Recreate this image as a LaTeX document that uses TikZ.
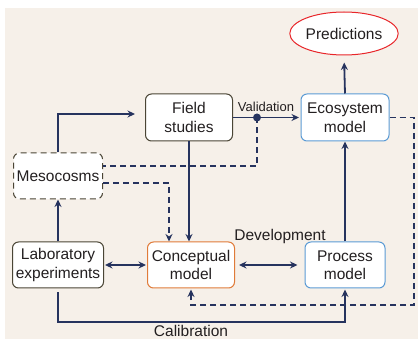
\documentclass[tikz,border=0pt]{standalone}
\usepackage{fontspec}
\setmainfont{Liberation Sans}
\usetikzlibrary{arrows.meta,calc,shapes.geometric}
\definecolor{bg}{HTML}{F6F0E9}
\definecolor{navy}{HTML}{26335E}
\definecolor{olive}{HTML}{4A4535}
\definecolor{bluec}{HTML}{5B9BD5}
\definecolor{orangec}{HTML}{E07B39}
\definecolor{redc}{HTML}{E8262A}
\definecolor{textc}{HTML}{231F20}
\begin{document}
\begin{tikzpicture}[x=1pt,y=-1pt,
  box/.style={draw, rounded corners=6pt, fill=white, line width=1pt, align=center, inner sep=0pt,
    text=textc, font=\fontsize{15.5}{18.5}\selectfont, minimum height=46pt},
  lbl/.style={text=textc, font=\fontsize{15.5}{18.5}\selectfont, inner sep=0pt},
  conn/.style={draw=navy, line width=1.8pt},
  arr/.style={conn, -{Stealth[length=7.5pt,width=7pt]}},
  darr/.style={conn, {Stealth[length=7.5pt,width=7pt]}-{Stealth[length=7.5pt,width=7pt]}},
  dsh/.style={dash pattern=on 6pt off 4pt}
]
\useasboundingbox (0,0) rectangle (418,339);
\fill[bg] (5,8) rectangle (418,339);

\node[draw=redc, line width=1pt, ellipse, fill=white, minimum width=95pt, minimum height=43pt, inner sep=0pt,
  text=textc, font=\fontsize{15.5}{18.5}\selectfont] (pred) at (344,33.5) {Predictions};
\node[box, draw=olive, minimum width=87pt, minimum height=47pt] (field) at (189,117.5) {Field\\studies};
\node[box, draw=bluec, minimum width=88pt, minimum height=47pt] (eco) at (345,117.5) {Ecosystem\\model};
\node[box, draw=olive, dsh, minimum width=89pt] (meso) at (58,176) {Mesocosms};
\node[box, draw=olive, minimum width=91pt] (lab) at (58,265) {Laboratory\\experiments};
\node[box, draw=orangec, minimum width=87pt] (conc) at (191,265) {Conceptual\\model};
\node[box, draw=bluec, minimum width=80pt] (proc) at (345,265) {Process\\model};

% mesocosms to field studies
\coordinate (fin) at (135,114);
\draw[arr] (meso.north) |- (fin);
% validation
\draw[arr, shorten >=1.5pt] (field.east) -- (eco.west);
\coordinate (dot) at (257,117.5);
\fill[navy] (dot) circle (4pt);
\node[lbl, font=\fontsize{13}{15}\selectfont, anchor=south] (val) at (266,112) {Validation};
% dashed from dot to mesocosms
\coordinate (m1) at ($(meso.east)+(0,-10)$);
\draw[conn, dsh] (dot) |- (m1);
% mesocosms to conceptual
\coordinate (m2) at ($(meso.east)+(0,7)$);
\draw[arr, dsh] (m2) -| ([xshift=-22pt]conc.north);
% field to conceptual
\draw[arr] (field.south) -- (field.south |- conc.north);
% lab to mesocosms
\draw[arr] (lab.north) -- (meso.south);
% lab <-> conceptual
\draw[darr, shorten <=1pt, shorten >=1pt] (lab.east) -- (conc.west);
% conceptual <-> process
\draw[darr, shorten <=4pt, shorten >=7pt] (conc.east) -- (proc.west);
\node[lbl] (dev) at (280,236) {Development};
% process to ecosystem
\draw[arr] (proc.north) -- (eco.south);
% ecosystem to predictions
\draw[arr, shorten >=7pt] (eco.north) -- (pred.south);
% ecosystem dashed loop to conceptual
\coordinate (c1) at (414,305);
\draw[arr, dsh, shorten >=1pt] (eco.east) -| (c1) -| (conc.south);
% calibration
\coordinate (c2) at (58,322);
\draw[arr, shorten <=4pt, shorten >=1pt] (lab.south) -- (c2) -| (proc.south);
\node[lbl] (cal) at (191,331) {Calibration};
\end{tikzpicture}
\end{document}
